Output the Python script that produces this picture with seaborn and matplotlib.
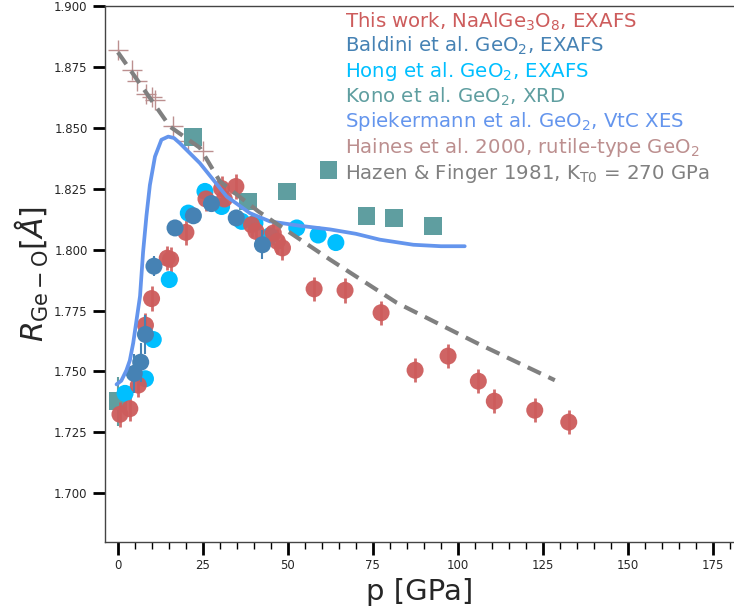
import numpy as np
import pandas as pd
import matplotlib
matplotlib.use("Agg")
import matplotlib.pyplot as plt
import seaborn as sns
from matplotlib.ticker import MultipleLocator

# ---- data ----
this_p = [0.6, 3.5, 6.0, 8.1, 9.9, 14.5, 15.5, 20.0, 25.9, 30.5, 31.3, 34.7, 39.3, 40.6,
          45.7, 46.9, 48.4, 57.7, 66.8, 77.4, 87.4, 97.1, 106.0, 110.7, 122.6, 132.6]
this_r = [1.7324, 1.7347, 1.7444, 1.7690, 1.7799, 1.7965, 1.7960, 1.8071, 1.8208, 1.8251,
          1.8208, 1.8259, 1.8102, 1.8075, 1.8068, 1.8034, 1.8007, 1.7839, 1.7833, 1.7741,
          1.7505, 1.7563, 1.7460, 1.7378, 1.7341, 1.7292]
this_err = [0.005] * len(this_p)

baldini_p = [4.8, 6.7, 8.1, 10.6, 16.8, 22.2, 27.5, 34.8, 42.5]
baldini_r = [1.7492, 1.7538, 1.7652, 1.7932, 1.8089, 1.8139, 1.8189, 1.8130, 1.8020]
baldini_err = [0.008, 0.008, 0.008, 0.004, 0.003, 0.003, 0.003, 0.003, 0.006]

hong_p = [2.1, 8.1, 10.4, 15.1, 20.7, 25.6, 30.5, 36.4, 40.3, 44.7, 52.6, 58.9, 64.1]
hong_r = [1.7410, 1.7470, 1.7631, 1.7877, 1.8150, 1.8239, 1.8177, 1.8116, 1.8109, 1.8057,
          1.8089, 1.8060, 1.8029]

kono_p = [0.0, 22.0, 38.3, 49.8, 61.9, 73.1, 81.2, 92.6]
kono_r = [1.7378, 1.8463, 1.8198, 1.8239, 1.8328, 1.8139, 1.8130, 1.8098]
kono_err = [0.010, 0, 0, 0, 0, 0, 0, 0]

spiek_p = [-0.4, 1.0, 2.5, 3.5, 4.5, 5.5, 6.5, 7.4, 8.4, 9.4, 10.9, 12.8, 14.8, 16.5, 18.2,
           24.1, 32.0, 38.8, 44.7, 53.5, 62.4, 70.0, 77.0, 86.9, 95.0, 102.0]
spiek_r = [1.7447, 1.7462, 1.7505, 1.7545, 1.7617, 1.7713, 1.7809, 1.7990, 1.8140, 1.8265,
           1.8382, 1.8451, 1.8464, 1.8458, 1.8437, 1.8355, 1.8218, 1.8150, 1.8116, 1.8098,
           1.8083, 1.8065, 1.8041, 1.8020, 1.8014, 1.8014]

haines_p = [0.0, 4.2, 5.7, 8.4, 10.0, 11.0, 16.1, 20.7, 25.1]
haines_r = [1.8820, 1.8738, 1.8693, 1.8638, 1.8625, 1.8615, 1.8508, 1.8444, 1.8403]

hazen_p = [0.0, 15.3, 24.1, 30.0, 41.3, 62.4, 82.0, 105.5, 128.5]
hazen_r = [1.8810, 1.8505, 1.8418, 1.8280, 1.8157, 1.7959, 1.7782, 1.7617, 1.7464]

labels = ["This work, NaAlGe$_3$O$_8$, EXAFS",
          "Baldini et al. GeO$_2$, EXAFS",
          "Hong et al. GeO$_2$, EXAFS",
          "Kono et al. GeO$_2$, XRD",
          "Spiekermann et al. GeO$_2$, VtC XES",
          "Haines et al. 2000, rutile-type GeO$_2$",
          "Hazen & Finger 1981, K$_{\\rm T0}$ = 270 GPa"]
colors = ["indianred", "steelblue", "deepskyblue", "cadetblue", "cornflowerblue",
          "rosybrown", "gray"]

# ---- plot ----
sns.set_style("ticks")
fig = plt.figure(figsize=(7.34, 6.15), dpi=100)
ax = fig.add_axes([105 / 734, 1 - 542 / 615, 1 - 105 / 734, (542 - 6) / 615])

# Haines crosses
ax.plot(haines_p, haines_r, ls="none", marker="+", ms=14, mew=1.0,
        color=colors[5], zorder=2)

# Kono squares
ax.errorbar(kono_p, kono_r, yerr=kono_err, fmt="none", ecolor=colors[3],
            elinewidth=1.5, zorder=2)
sns.scatterplot(x=kono_p, y=kono_r, ax=ax, marker="s", s=160, color=colors[3],
                edgecolor="none", linewidth=0, zorder=3)

# This work
ax.errorbar(this_p, this_r, yerr=this_err, fmt="none", ecolor=colors[0],
            elinewidth=2, alpha=0.9, zorder=3)
sns.scatterplot(x=this_p, y=this_r, ax=ax, marker="o", s=150, color=colors[0],
                edgecolor="none", linewidth=0, alpha=0.95, zorder=4)

# Hong
sns.scatterplot(x=hong_p, y=hong_r, ax=ax, marker="o", s=150, color=colors[2],
                edgecolor="none", linewidth=0, zorder=3)

# Baldini
ax.errorbar(baldini_p, baldini_r, yerr=baldini_err, fmt="none", ecolor=colors[1],
            elinewidth=1.5, zorder=4)
sns.scatterplot(x=baldini_p, y=baldini_r, ax=ax, marker="o", s=150, color=colors[1],
                edgecolor="none", linewidth=0, zorder=4)

# lines
sns.lineplot(x=spiek_p, y=spiek_r, ax=ax, color=colors[4], lw=2.7, zorder=5,
             sort=False, estimator=None)
ax.plot(hazen_p, hazen_r, ls=(0, (3.5, 2)), color=colors[6], lw=3, zorder=6)

ax.set_xlim(-3.8, 181.2)
ax.set_ylim(1.68, 1.90)
ax.xaxis.set_major_locator(MultipleLocator(25))
ax.xaxis.set_minor_locator(MultipleLocator(5))
ax.yaxis.set_major_locator(MultipleLocator(0.025))
ax.yaxis.set_major_formatter(matplotlib.ticker.FormatStrFormatter("%.3f"))
ax.tick_params(axis="both", which="major", length=9, width=2, labelsize=8.5,
               color="black", direction="out")
ax.tick_params(axis="x", which="minor", length=5, width=1, color="black")
for s in ["left", "bottom", "top"]:
    ax.spines[s].set_color("#444444")
    ax.spines[s].set_linewidth(1.0)
ax.spines["right"].set_visible(False)

ax.set_xlabel("p [GPa]", fontsize=21)
ax.set_ylabel(r"$R_{\rm Ge-O}[\AA]$", fontsize=21.5, labelpad=2)

# legend with coloured text only
proxies = [plt.Line2D([], [], ls="none", marker=None) for _ in labels]
leg = ax.legend(proxies, labels, loc="upper right", bbox_to_anchor=(0.962, 0.992),
                frameon=False, handlelength=0, handletextpad=0, fontsize=14.2,
                labelspacing=0.13, borderaxespad=0, borderpad=0)
for t, c in zip(leg.get_texts(), colors):
    t.set_color(c)

fig.savefig("out.png", dpi=100)
